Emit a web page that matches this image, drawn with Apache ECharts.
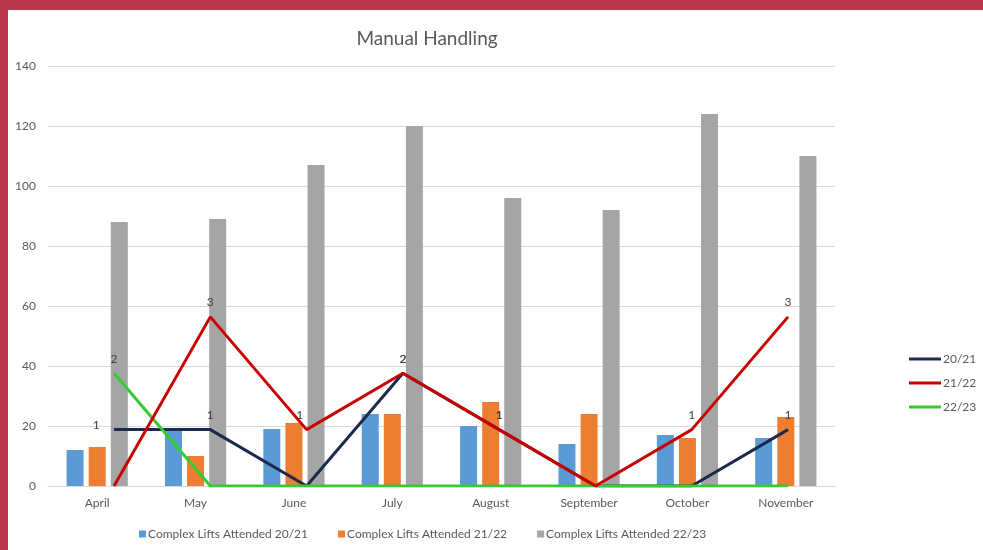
<!DOCTYPE html>
<html>
<head>
<meta charset="utf-8">
<script src="https://cdn.jsdelivr.net/npm/echarts@6/dist/echarts.min.js"></script>
<style>
  html, body { margin: 0; padding: 0; background: #fff; }
  #frame {
    width: 975px; height: 540px;
    border-top: 10px solid #B9384E;
    border-left: 8px solid #B9384E;
    background: #fff;
  }
  #chart { width: 975px; height: 540px; }
</style>
</head>
<body>
<div id="frame"><div id="chart"></div></div>
<script>
// 月份
const months = ['April', 'May', 'June', 'July', 'August', 'September', 'October', 'November'];

// 柱状数据（主轴）
const lifts2021 = [12, 19, 19, 24, 20, 14, 17, 16];
const lifts2122 = [13, 10, 21, 24, 28, 24, 16, 23];
const lifts2223 = [88, 89, 107, 120, 96, 92, 124, 110];

// 折线数据（次轴）
const line2021 = [1, 1, 0, 2, 1, 0, 0, 1];
const line2122 = [0, 3, 1, 2, 1, 0, 1, 3];
const line2223 = [2, 0, 0, 0, 0, 0, 0, 0];

const yTicks = [0, 20, 40, 60, 80, 100, 120, 140];

const textColor = '#595959';
const fontFamily = 'Lato, "Open Sans", sans-serif';

function toPoints(arr) {
  return arr.map((v, i) => [i, v]);
}

function lineSeries(name, data, color, z) {
  return {
    name: name,
    type: 'line',
    xAxisIndex: 1,
    yAxisIndex: 1,
    data: toPoints(data).map((p, i) => {
      const item = { value: p };
      if (name === '20/21' && i === 0) {
        item.label = { position: 'left', distance: 14, offset: [0, -4] };
      }
      if (name === '21/22' && i === 2) {
        item.label = { offset: [-7, 0] };
      }
      return item;
    }),
    // 标签依附在符号上，符号做成极小
    symbol: 'circle',
    symbolSize: 0.5,
    showSymbol: true,
    z: z,
    lineStyle: { color: color, width: 3 },
    itemStyle: { color: color },
    label: {
      show: true,
      position: 'top',
      distance: 8,
      color: '#404040',
      fontSize: 12,
      fontFamily: fontFamily,
      formatter: p => (p.value[1] === 0 ? '' : String(p.value[1]))
    }
  };
}

const chart = echarts.init(document.getElementById('chart'));

const option = {
  animation: false,
  title: {
    text: 'Manual Handling',
    left: 414,
    top: 14,
    textAlign: 'center',
    textStyle: { color: textColor, fontSize: 19, fontWeight: 'normal', fontFamily: fontFamily }
  },
  grid: { left: 40, right: 148, top: 56, bottom: 64 },
  legend: [
    {
      data: ['Complex Lifts Attended 20/21', 'Complex Lifts Attended 21/22', 'Complex Lifts Attended 22/23'],
      left: 126,
      bottom: 5,
      itemWidth: 7,
      itemHeight: 7,
      itemGap: 30,
      icon: 'rect',
      textStyle: { color: textColor, fontSize: 12, fontFamily: fontFamily, padding: [0, 0, 0, -3] }
    },
    {
      data: ['20/21', '21/22', '22/23'],
      orient: 'vertical',
      left: 896,
      top: 338,
      itemWidth: 32,
      itemHeight: 3,
      itemGap: 12,
      icon: 'rect',
      textStyle: { color: textColor, fontSize: 12, fontFamily: fontFamily, padding: [0, 0, 0, -3] }
    }
  ],
  xAxis: [
    {
      type: 'category',
      data: months,
      axisLine: { lineStyle: { color: '#D9D9D9' } },
      axisTick: { show: false },
      axisLabel: { color: textColor, fontSize: 12, fontFamily: fontFamily, margin: 11 }
    },
    {
      type: 'value',
      show: false,
      min: -0.686,
      max: 7.488
    }
  ],
  yAxis: [
    {
      type: 'value',
      min: yTicks[0],
      max: yTicks[yTicks.length - 1],
      interval: 20,
      axisLine: { show: false },
      axisTick: { show: false },
      splitLine: { lineStyle: { color: '#D9D9D9' } },
      axisLabel: { color: textColor, fontSize: 12, fontFamily: fontFamily, margin: 12 }
    },
    {
      type: 'value',
      show: false,
      min: 0,
      max: 7.45,
      splitLine: { show: false }
    }
  ],
  series: [
    {
      name: 'Complex Lifts Attended 20/21',
      type: 'bar',
      data: lifts2021,
      barWidth: 17,
      barGap: '30%',
      itemStyle: { color: '#5B9BD5' }
    },
    {
      name: 'Complex Lifts Attended 21/22',
      type: 'bar',
      data: lifts2122,
      barWidth: 17,
      barGap: '30%',
      itemStyle: { color: '#ED7D31' }
    },
    {
      name: 'Complex Lifts Attended 22/23',
      type: 'bar',
      data: lifts2223,
      barWidth: 17,
      barGap: '30%',
      itemStyle: { color: '#A5A5A5' }
    },
    lineSeries('20/21', line2021, '#1B2A4E', 3),
    lineSeries('21/22', line2122, '#C80000', 5),
    lineSeries('22/23', line2223, '#33CC33', 4)
  ]
};

chart.setOption(option);

window.addEventListener('resize', function() {
  chart.resize();
});
</script>
</body>
</html>
